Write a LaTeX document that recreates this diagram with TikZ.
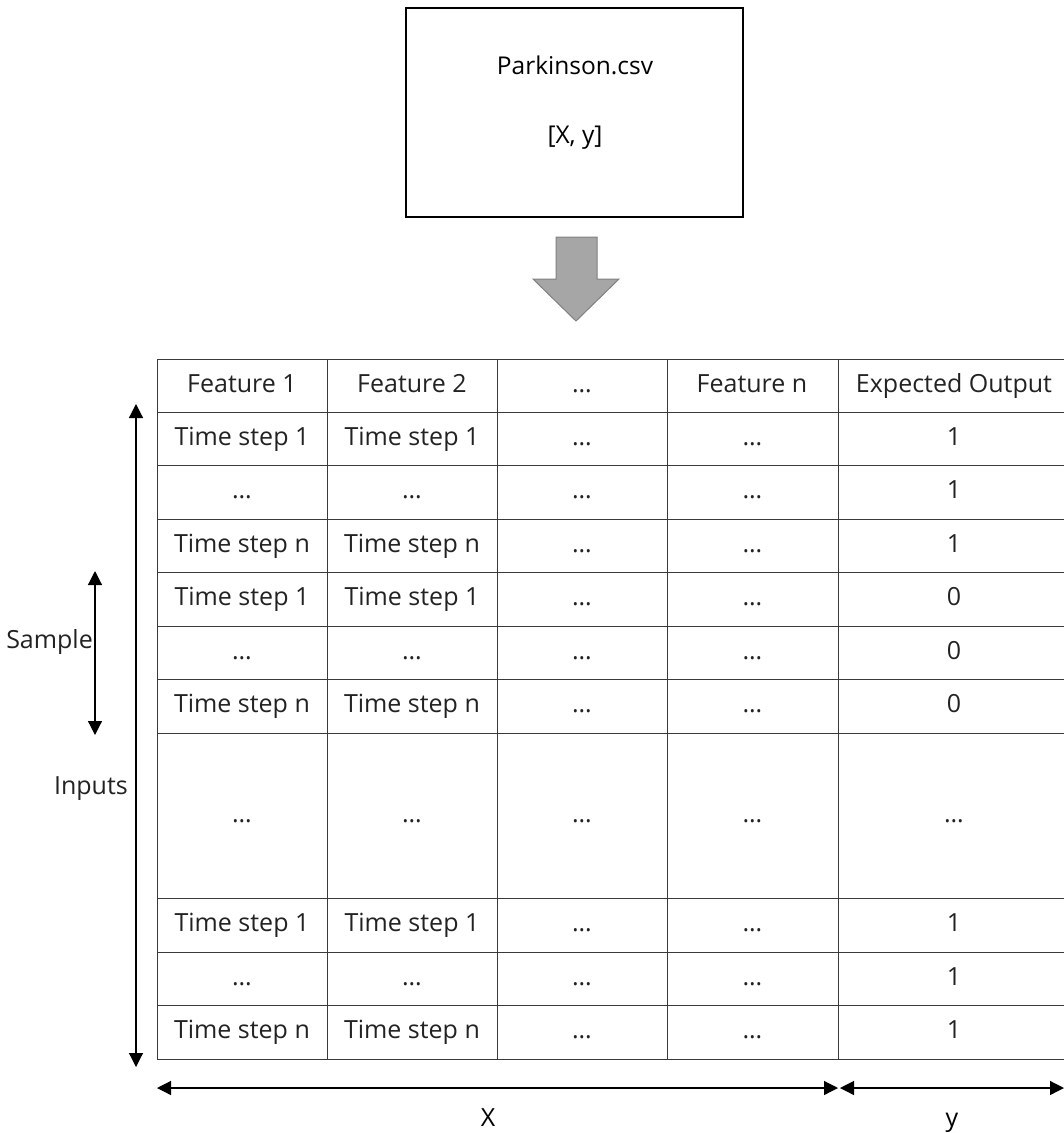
\documentclass[tikz,border=0pt]{standalone}
\usepackage{fontspec}
\setmainfont{Open Sans}
\usetikzlibrary{arrows.meta}
\definecolor{ink}{HTML}{222222}
\definecolor{rule}{HTML}{3A3A3A}
\definecolor{arrowfill}{HTML}{A6A6A6}
\definecolor{arrowedge}{HTML}{808080}
\begin{document}
\begin{tikzpicture}[x=1pt,y=-1pt,
  txt/.style={font=\fontsize{25}{29}\selectfont, text=ink, inner sep=0pt,
              text height=18pt, text depth=5pt},
  gridline/.style={draw=rule, line width=1pt},
  dim/.style={draw=black, line width=1.2pt, {Triangle[length=14pt,width=14pt]}-{Triangle[length=14pt,width=14pt]}}
]
\useasboundingbox (0,0) rectangle (1064,1133);

% source file box
\node[draw=black, line width=1.6pt, minimum width=337pt, minimum height=209pt, inner sep=0pt] (src) at (574.5,112.5) {};
\node[txt, text=black, font=\fontsize{24.5}{29}\selectfont] (fname) at (575,68) {Parkinson.csv};
\node[txt, text=black, font=\fontsize{24.5}{29}\selectfont] (fvars) at (575,137) {[X, y]};

% block arrow into the table
\draw[fill=arrowfill, draw=arrowedge, line width=1pt]
  (556,237) -- (597,237) -- (597,279) -- (619,279) -- (576,321) -- (533,279) -- (556,279) -- cycle;

% table grid
\foreach \y in {359,412,465,519,572,626,679,733,898,952,1005,1059}
  \draw[gridline] (157,\y) -- (1064,\y);
\foreach \x in {157,327,497,667,838}
  \draw[gridline] (\x,359) -- (\x,1059);

% header row
\foreach \t [count=\c] in {Feature 1,Feature 2,\ldots,Feature n,Expected Output}
  \node[txt] (h-\c) at ({\c==5 ? 954 : 72+170*\c},385.5) {\t};

% body rows: y centre / col1 / col2 / output
\foreach \yc/\a/\b/\o [count=\r] in {
    438.5/Time step 1/Time step 1/1,
    492/\ldots/\ldots/1,
    545.5/Time step n/Time step n/1,
    599/Time step 1/Time step 1/0,
    652.5/\ldots/\ldots/0,
    706/Time step n/Time step n/0,
    815.5/\ldots/\ldots/\ldots,
    925/Time step 1/Time step 1/1,
    978.5/\ldots/\ldots/1,
    1032/Time step n/Time step n/1} {
  \node[txt] (c-\r-1) at (242,\yc) {\a};
  \node[txt] (c-\r-2) at (412,\yc) {\b};
  \node[txt] (c-\r-3) at (582,\yc) {\ldots};
  \node[txt] (c-\r-4) at (752.5,\yc) {\ldots};
  \node[txt] (c-\r-5) at (954,\yc) {\o};
}

% extent markers
\coordinate (in-top) at (136,404);
\coordinate (in-bot) at (136,1067);
\coordinate (sm-top) at (95,571);
\coordinate (sm-bot) at (95,735);
\coordinate (x-left) at (157,1088);
\coordinate (x-right) at (838,1088);
\coordinate (y-left) at (840,1088);
\coordinate (y-right) at (1064,1088);

\draw[dim] (in-top) -- (in-bot);
\draw[dim] (sm-top) -- (sm-bot);
\draw[dim] (x-left) -- (x-right);
\draw[dim] (y-left) -- (y-right);

\node[txt, anchor=east] (lbl-sample) at (93,642) {Sample};
\node[txt, anchor=east] (lbl-inputs) at (128,788) {Inputs};
\node[txt, text=black] (lbl-x) at (488,1120) {X};
\node[txt, text=black] (lbl-y) at (952,1120) {y};
\end{tikzpicture}
\end{document}
